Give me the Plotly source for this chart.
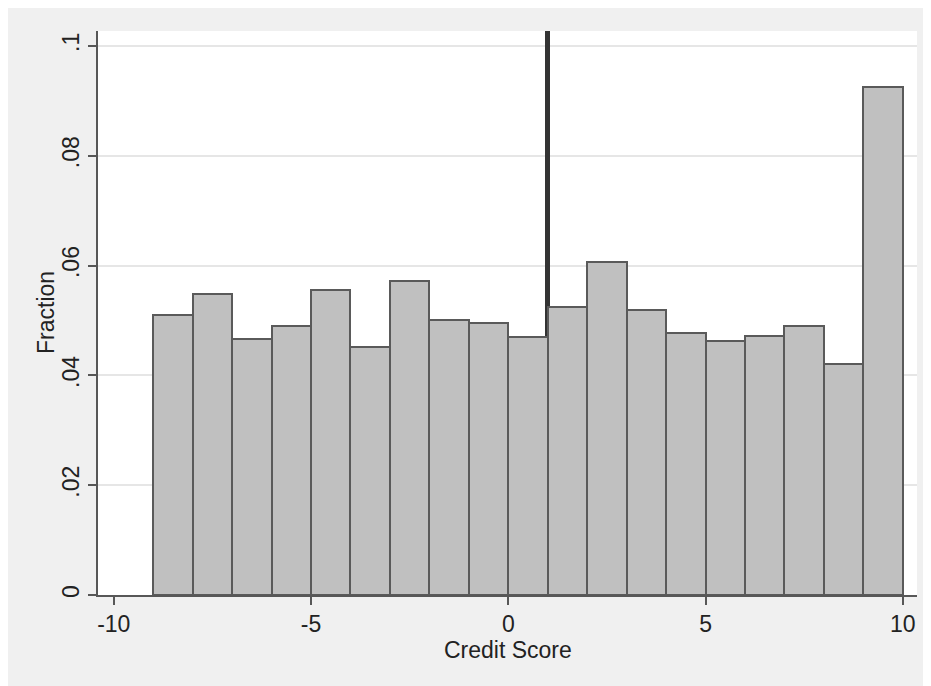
import plotly.graph_objects as go

# histogram bins (left edges, width 1) and fractions
bin_left = [-9, -8, -7, -6, -5, -4, -3, -2, -1, 0, 1, 2, 3, 4, 5, 6, 7, 8, 9]
fraction = [0.0510, 0.0549, 0.0466, 0.0490, 0.0555, 0.0451, 0.0571, 0.0501, 0.0495, 0.0469,
            0.0524, 0.0607, 0.0519, 0.0477, 0.0462, 0.0471, 0.0490, 0.0421, 0.0925]
cutoff = 1

x_ticks = [-10, -5, 0, 5, 10]
x_tick_text = ["-10", "-5", "0", "5", "10"]
y_ticks = [0, 0.02, 0.04, 0.06, 0.08, 0.1]
y_tick_text = ["0", ".02", ".04", ".06", ".08", ".1"]
y_top = 0.1027

# page body adds an 8px offset, so the figure is a bit smaller than the window
W, H = 923, 678
margin = dict(l=90, r=14, t=23, b=91)
axis_col = "#575757"
font = "Liberation Sans, Arial, sans-serif"
font_size = 23


def makeFig():
    fig = go.Figure()
    # cutoff line: drawn as a thin bar first so it sits above the grid, behind the bars
    line_w = 0.125
    fig.add_bar(
        x=[cutoff], y=[y_top], width=line_w, offset=-line_w / 2,
        marker=dict(color="#333333", line=dict(width=0)),
        showlegend=False, hoverinfo="skip",
    )
    fig.add_bar(
        x=bin_left, y=fraction, width=1, offset=0,
        marker=dict(color="#c0c0c0", line=dict(color="#5a5a5a", width=2)),
        showlegend=False,
    )
    return fig


def addTitles(fig):
    pw = W - margin["l"] - margin["r"]
    ph = H - margin["t"] - margin["b"]
    fig.add_annotation(text="Credit Score", xref="paper", yref="paper",
                       x=0.5, y=-55 / ph, xanchor="center", yanchor="middle",
                       showarrow=False, font_size=font_size)
    fig.add_annotation(text="Fraction", xref="paper", yref="paper",
                       x=-52 / pw, y=0.5, xanchor="center", yanchor="middle",
                       textangle=-90, showarrow=False, font_size=font_size)
    return fig


def updateGraph(fig):
    fig.update_layout(
        width=W, height=H, margin=margin,
        paper_bgcolor="#f0f0f0", plot_bgcolor="white",
        font=dict(family=font, size=font_size, color="#222222"),
        barmode="overlay", bargap=0,
    )
    fig.update_xaxes(
        range=[-10.4, 10.36], tickvals=x_ticks, ticktext=x_tick_text,
        showgrid=False, zeroline=False,
        showline=True, linecolor=axis_col, linewidth=1.5,
        ticks="outside", ticklen=8, tickwidth=1.5, tickcolor=axis_col,
    )
    fig.update_yaxes(
        range=[0, y_top], tickvals=y_ticks, ticktext=y_tick_text, tickangle=-90,
        showgrid=True, gridcolor="#e6e6e6", gridwidth=1.5, zeroline=False,
        showline=True, linecolor=axis_col, linewidth=1.5,
        ticks="outside", ticklen=8, tickwidth=1.5, tickcolor=axis_col,
    )
    return fig


fig = addTitles(updateGraph(makeFig()))
fig.write_html("out.html")
